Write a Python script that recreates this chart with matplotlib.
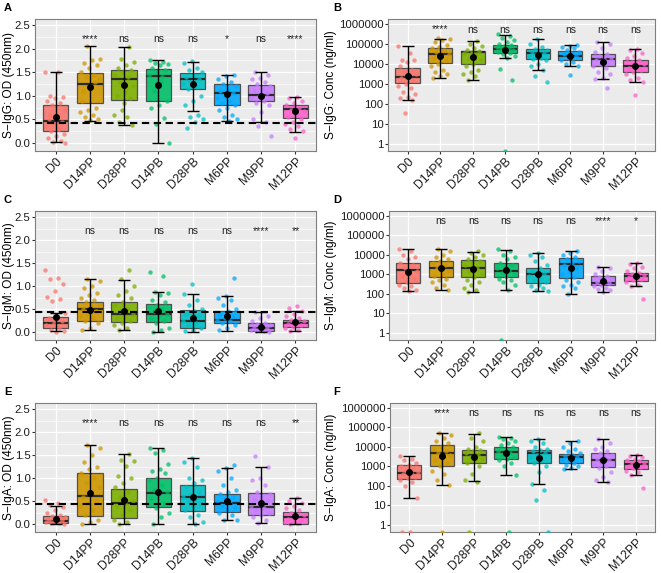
import numpy as np
import matplotlib
matplotlib.use("Agg")
import matplotlib.pyplot as plt
from matplotlib.ticker import FixedLocator, FuncFormatter

plt.rcParams['font.family'] = ['Liberation Sans', 'DejaVu Sans']

groups = ['D0', 'D14PP', 'D28PP', 'D14PB', 'D28PB', 'M6PP', 'M9PP', 'M12PP']
colors = ['#F8766D', '#CD9600', '#7CAE00', '#00BE67', '#00BFC4', '#00A9FF', '#C77CFF', '#FF61CC']
cutoff = 0.43

# ---- A: S-IgG OD ----
a_q1 = [0.26, 0.85, 0.92, 0.88, 1.15, 0.80, 0.90, 0.54]
a_med = [0.46, 1.26, 1.35, 1.42, 1.35, 1.07, 1.02, 0.72]
a_q3 = [0.80, 1.48, 1.55, 1.57, 1.49, 1.26, 1.24, 0.81]
a_lo = [0.02, 0.47, 0.38, 0.00, 0.67, 0.46, 0.44, 0.23]
a_hi = [1.51, 2.05, 2.03, 1.77, 1.72, 1.45, 1.50, 0.98]
a_mean = [0.55, 1.18, 1.22, 1.24, 1.25, 1.03, 1.00, 0.67]
a_pts = [
    [1.51, 1.50, 1.0, 0.97, 0.95, 0.9, 0.85, 0.8, 0.7, 0.6, 0.5, 0.45, 0.4, 0.35, 0.3, 0.25, 0.2, 0.15, 0.1, 0.05, 0.02, 0.0, 0.3, 0.6],
    [2.05, 1.78, 1.75, 1.7, 1.65, 1.6, 1.5, 1.45, 1.4, 1.35, 1.2, 1.1, 0.75, 0.7, 0.65, 0.6, 0.55, 0.5, 0.48, 0.9, 1.3],
    [2.03, 1.78, 1.72, 1.65, 1.6, 1.55, 1.5, 1.45, 1.4, 1.3, 1.2, 1.1, 1.0, 0.95, 0.7, 0.6, 0.55, 0.45, 0.38, 0.85],
    [1.77, 1.72, 1.7, 1.68, 1.65, 1.6, 1.55, 1.5, 1.45, 1.4, 1.1, 0.9, 0.8, 0.75, 0.52, 0.4, 0.0, 1.3],
    [1.73, 1.7, 1.6, 1.55, 1.5, 1.45, 1.4, 1.35, 1.3, 1.25, 1.2, 1.15, 1.0, 0.9, 0.8, 0.6, 0.55, 0.5, 0.45, 0.32],
    [1.45, 1.43, 1.35, 1.3, 1.25, 1.2, 1.15, 1.1, 1.05, 1.0, 0.95, 0.9, 0.85, 0.8, 0.75, 0.7, 0.6, 0.55, 0.5, 0.46],
    [1.5, 1.45, 1.38, 1.35, 1.3, 1.25, 1.2, 1.15, 1.1, 1.05, 1.0, 0.95, 0.9, 0.85, 0.8, 0.65, 0.5, 0.45, 0.35, 0.15],
    [0.98, 0.95, 0.9, 0.85, 0.8, 0.75, 0.7, 0.68, 0.62, 0.55, 0.5, 0.45, 0.4, 0.35, 0.3, 0.25, 0.1],
]
a_sig = ['****', 'ns', 'ns', 'ns', '*', 'ns', '****']

# ---- B: S-IgG Conc ----
b_q1 = [1100, 11000, 9500, 35000, 18000, 15000, 7500, 4000]
b_med = [2200, 30000, 40000, 55000, 35000, 25000, 17000, 8000]
b_q3 = [6000, 65000, 45000, 85000, 55000, 45000, 30000, 16000]
b_lo = [150, 2000, 1500, 20000, 5000, 7500, 1800, 1200]
b_hi = [80000, 180000, 140000, 280000, 180000, 90000, 130000, 55000]
b_mean = [2450, 25000, 23000, 50000, 28000, 24000, 13000, 7500]
b_pts = [
    [80000, 35000, 16000, 15000, 12000, 8000, 5000, 4000, 3000, 2500, 2000, 1500, 1000, 800, 600, 400, 300, 220, 200, 150, 35],
    [200000, 180000, 150000, 120000, 90000, 70000, 60000, 50000, 40000, 30000, 25000, 20000, 15000, 10000, 8000, 5000, 4000, 3000, 2500, 2000],
    [140000, 100000, 80000, 60000, 50000, 45000, 40000, 35000, 30000, 20000, 15000, 10000, 8000, 5000, 4000, 3000, 2500, 1500],
    [300000, 250000, 200000, 150000, 120000, 100000, 90000, 80000, 70000, 60000, 55000, 50000, 45000, 40000, 35000, 30000, 25000, 20000, 5500, 1500, 0],
    [180000, 100000, 70000, 55000, 50000, 45000, 40000, 35000, 30000, 25000, 20000, 18000, 15000, 10000, 8000, 5000, 2500, 1200],
    [90000, 80000, 70000, 60000, 50000, 40000, 35000, 30000, 25000, 20000, 15000, 12000, 10000, 8000, 2800],
    [130000, 100000, 60000, 40000, 30000, 25000, 20000, 17000, 15000, 12000, 10000, 8000, 6000, 4000, 3000, 2000, 1800, 600],
    [55000, 50000, 35000, 25000, 20000, 15000, 12000, 10000, 8000, 6000, 5000, 4000, 3000, 2000, 1500, 1200, 280],
]
b_sig = ['****', 'ns', 'ns', 'ns', 'ns', 'ns', 'ns']

# ---- C: S-IgM OD ----
c_q1 = [0.10, 0.25, 0.22, 0.23, 0.10, 0.20, 0.03, 0.12]
c_med = [0.20, 0.50, 0.39, 0.39, 0.25, 0.27, 0.08, 0.20]
c_q3 = [0.33, 0.66, 0.65, 0.62, 0.48, 0.46, 0.20, 0.26]
c_lo = [0.02, 0.05, 0.04, 0.00, 0.01, 0.03, 0.01, 0.03]
c_hi = [0.42, 1.15, 1.14, 0.88, 0.83, 0.79, 0.43, 0.46]
c_mean = [0.33, 0.49, 0.45, 0.45, 0.30, 0.35, 0.11, 0.21]
c_pts = [
    [1.35, 1.17, 1.15, 1.05, 0.9, 0.77, 0.72, 0.68, 0.42, 0.35, 0.3, 0.25, 0.2, 0.15, 0.1, 0.05, 0.02, 0.0],
    [1.15, 1.12, 1.0, 0.95, 0.85, 0.8, 0.75, 0.7, 0.65, 0.6, 0.55, 0.5, 0.45, 0.4, 0.35, 0.3, 0.25, 0.2, 0.1, 0.05],
    [1.34, 1.15, 1.0, 0.9, 0.8, 0.75, 0.65, 0.6, 0.5, 0.45, 0.4, 0.35, 0.3, 0.25, 0.2, 0.15, 0.1, 0.05],
    [1.31, 1.21, 0.88, 0.85, 0.8, 0.7, 0.65, 0.6, 0.55, 0.5, 0.45, 0.4, 0.35, 0.3, 0.25, 0.2, 0.1, 0.05, 0.0],
    [1.05, 0.83, 0.7, 0.6, 0.5, 0.45, 0.4, 0.35, 0.3, 0.25, 0.2, 0.15, 0.1, 0.05, 0.02],
    [1.18, 0.79, 0.75, 0.7, 0.6, 0.5, 0.45, 0.4, 0.35, 0.3, 0.27, 0.25, 0.2, 0.15, 0.1, 0.05],
    [0.43, 0.35, 0.3, 0.25, 0.2, 0.18, 0.15, 0.12, 0.1, 0.08, 0.06, 0.05, 0.03, 0.02, 0.01],
    [0.57, 0.52, 0.46, 0.4, 0.35, 0.3, 0.26, 0.24, 0.2, 0.18, 0.15, 0.12, 0.1, 0.05, 0.03],
]
c_sig = ['ns', 'ns', 'ns', 'ns', 'ns', '****', '**']

# ---- D: S-IgM Conc ----
d_q1 = [380, 750, 700, 750, 380, 650, 280, 450]
d_med = [1600, 2100, 2000, 1500, 1100, 3300, 350, 850]
d_q3 = [4000, 5000, 5200, 3800, 2100, 6500, 800, 1200]
d_lo = [140, 150, 130, 150, 140, 100, 130, 250]
d_hi = [20000, 20000, 14000, 18000, 13000, 15000, 2500, 4000]
d_mean = [1300, 2000, 1800, 1700, 1100, 2000, 450, 800]
d_pts = [
    [20000, 15000, 10000, 8000, 6000, 4000, 3000, 2000, 1500, 1000, 800, 600, 400, 300, 250, 200, 150, 140],
    [20000, 15000, 10000, 8000, 6000, 5000, 4000, 3000, 2000, 1500, 1000, 800, 600, 500, 400, 300, 200, 150],
    [15000, 13000, 10000, 8000, 6000, 5000, 4000, 3000, 2000, 1500, 1000, 700, 500, 400, 300, 200, 150, 130],
    [20000, 15000, 10000, 8000, 6000, 4000, 3000, 2500, 2000, 1500, 1200, 1000, 800, 600, 500, 400, 300, 150, 0],
    [13000, 10000, 8000, 5000, 3000, 2000, 1500, 1200, 1000, 800, 600, 500, 400, 300, 250, 200, 150, 140],
    [15000, 12000, 10000, 8000, 6000, 5000, 4000, 3000, 2000, 1500, 1000, 700, 500, 400, 300, 250, 200, 100],
    [2500, 2000, 1500, 1000, 800, 700, 600, 500, 400, 350, 300, 250, 200, 180, 150, 130],
    [4000, 3500, 2500, 2000, 1500, 1200, 1000, 900, 800, 700, 600, 500, 400, 300, 250, 55],
]
d_sig = ['ns', 'ns', 'ns', 'ns', 'ns', '****', '*']

# ---- E: S-IgA OD ----
e_q1 = [0.03, 0.18, 0.13, 0.38, 0.28, 0.26, 0.20, 0.01]
e_med = [0.07, 0.62, 0.47, 0.68, 0.58, 0.47, 0.37, 0.15]
e_q3 = [0.17, 1.12, 0.77, 1.00, 0.84, 0.66, 0.68, 0.27]
e_lo = [0.00, 0.00, 0.00, 0.00, 0.00, 0.08, 0.03, 0.00]
e_hi = [0.40, 1.72, 1.53, 1.65, 1.43, 1.22, 1.24, 0.56]
e_mean = [0.12, 0.67, 0.53, 0.70, 0.59, 0.50, 0.46, 0.17]
e_pts = [
    [0.52, 0.45, 0.42, 0.38, 0.3, 0.25, 0.2, 0.17, 0.15, 0.12, 0.1, 0.08, 0.06, 0.05, 0.03, 0.02, 0.0],
    [1.72, 1.65, 1.5, 1.35, 1.25, 1.2, 1.1, 1.0, 0.9, 0.8, 0.7, 0.6, 0.5, 0.45, 0.4, 0.3, 0.2, 0.1, 0.05, 0.0],
    [1.53, 1.4, 1.38, 1.26, 1.05, 1.0, 0.9, 0.8, 0.7, 0.6, 0.5, 0.45, 0.4, 0.3, 0.2, 0.1, 0.05, 0.0],
    [1.65, 1.6, 1.55, 1.3, 1.2, 1.15, 1.1, 1.0, 0.95, 0.85, 0.75, 0.7, 0.65, 0.55, 0.45, 0.35, 0.25, 0.15, 0.0],
    [1.43, 1.35, 1.25, 1.0, 0.95, 0.9, 0.8, 0.7, 0.65, 0.6, 0.55, 0.5, 0.45, 0.4, 0.3, 0.2, 0.15, 0.05, 0.0],
    [1.28, 1.22, 1.15, 1.0, 0.85, 0.75, 0.7, 0.65, 0.6, 0.55, 0.5, 0.45, 0.4, 0.35, 0.3, 0.25, 0.2, 0.1, 0.08],
    [1.48, 1.24, 1.0, 0.95, 0.85, 0.7, 0.65, 0.6, 0.55, 0.5, 0.45, 0.4, 0.35, 0.3, 0.25, 0.2, 0.15, 0.1, 0.03],
    [0.56, 0.5, 0.45, 0.4, 0.35, 0.3, 0.25, 0.2, 0.15, 0.12, 0.1, 0.08, 0.05, 0.02, 0.0],
]
e_sig = ['****', 'ns', 'ns', 'ns', 'ns', 'ns', '**']

# ---- F: S-IgA Conc ----
f_q1 = [230, 1100, 1500, 2500, 1400, 1500, 950, 750]
f_med = [450, 5000, 4000, 5500, 5000, 3000, 2000, 1300]
f_q3 = [1200, 13000, 7000, 10000, 7000, 4500, 5000, 2200]
f_lo = [25, 110, 170, 350, 130, 700, 160, 340]
f_hi = [3300, 50000, 45000, 33000, 25000, 20000, 25000, 4000]
f_mean = [500, 3300, 3000, 5000, 2800, 2800, 2000, 1200]
f_pts = [
    [3300, 2500, 2000, 1500, 1200, 1000, 800, 600, 500, 450, 400, 300, 250, 200, 150, 100, 25, 0, 0],
    [50000, 40000, 30000, 20000, 15000, 10000, 8000, 6000, 5000, 4000, 3000, 2000, 1500, 1000, 600, 400, 200, 110, 0],
    [50000, 30000, 20000, 10000, 8000, 7000, 6000, 5000, 4000, 3000, 2500, 2000, 1500, 1000, 400, 200, 160, 0],
    [33000, 30000, 25000, 20000, 15000, 12000, 10000, 8000, 6000, 5000, 4000, 3000, 2500, 2000, 1500, 1000, 350, 0],
    [25000, 20000, 15000, 10000, 8000, 7000, 6000, 5000, 4000, 3000, 2000, 1500, 1000, 500, 130, 60, 18, 0],
    [20000, 15000, 10000, 8000, 6000, 5000, 4000, 3500, 3000, 2500, 2000, 1500, 1200, 1000, 800, 700],
    [25000, 15000, 10000, 8000, 6000, 5000, 4000, 3000, 2500, 2000, 1500, 1200, 1000, 800, 500, 300, 200, 160],
    [4000, 3500, 3000, 2500, 2000, 1800, 1500, 1300, 1200, 1000, 900, 800, 600, 500, 340, 80],
]
f_sig = ['****', 'ns', 'ns', 'ns', 'ns', 'ns', 'ns']

W, H = 661, 573
fig = plt.figure(figsize=(W / 100, H / 100), dpi=100)


def px_axes(left, top, right, bottom):
    return fig.add_axes([left / W, 1 - bottom / H, (right - left) / W, (bottom - top) / H])


def panel(ax, q1, med, q3, lo, hi, mean, pts, sig, ylabel, label_right_px, log=False):
    x = np.arange(1, len(groups) + 1)
    ax.set_facecolor('#EBEBEB')
    if log:
        ax.set_yscale('log')
        ymin, ymax = 10 ** -0.37, 10 ** 6.25
        ax.set_ylim(ymin, ymax)
        ax.yaxis.set_major_locator(FixedLocator([10 ** k for k in range(7)]))
        ax.yaxis.set_major_formatter(FuncFormatter(lambda v, p: f'{int(round(v))}'))
        ax.yaxis.set_minor_locator(FixedLocator([]))
        sig_y = 10 ** 5.72
    else:
        ymin, ymax = -0.17, 2.63
        ax.set_ylim(ymin, ymax)
        ax.set_yticks([0.0, 0.5, 1.0, 1.5, 2.0, 2.5])
        ax.set_yticklabels(['0.0', '0.5', '1.0', '1.5', '2.0', '2.5'])
        ax.yaxis.set_minor_locator(FixedLocator([0.25, 0.75, 1.25, 1.75, 2.25]))
        sig_y = 2.2
    ax.set_xlim(0.4, 8.6)
    ax.grid(True, which='major', color='white', lw=0.9, zorder=0)
    ax.grid(True, which='minor', axis='y', color='white', lw=0.45, zorder=0)
    ax.set_axisbelow(True)

    stats = [dict(q1=q1[i], med=med[i], q3=q3[i], whislo=lo[i], whishi=hi[i], fliers=[])
             for i in range(len(groups))]
    bp = ax.bxp(stats, positions=x, widths=0.74, patch_artist=True, showcaps=False,
                boxprops=dict(edgecolor='#444444', lw=0.9),
                medianprops=dict(color='#2b2b2b', lw=1.6),
                whiskerprops=dict(lw=0), manage_ticks=False, zorder=2)
    for patch, c in zip(bp['boxes'], colors):
        patch.set_facecolor(c)
        patch.set_alpha(0.9)
        patch.set_edgecolor('#444444')

    for i, vals in enumerate(pts):
        vals = np.array(vals, dtype=float)
        if log:
            vals = np.where(vals <= 0, ymin, vals)
        n = len(vals)
        offs = ((np.arange(n) * 0.6180339 + 0.37 * i) % 1.0 - 0.5) * 0.6
        ax.scatter(x[i] + offs, vals, s=10, color=colors[i], alpha=0.75, lw=0, zorder=3)

    if not log:
        ax.axhline(cutoff, color='black', lw=1.5, dashes=(3.5, 2.2), zorder=4)

    mean = np.array(mean, dtype=float)
    ax.errorbar(x, mean, yerr=[mean - np.array(lo), np.array(hi) - mean], fmt='o',
                color='black', ms=4, elinewidth=1.0, capsize=4.5, capthick=1.0, zorder=5)

    for i, s in enumerate(sig):
        ax.text(x[i + 1], sig_y, s, ha='center', va='center', fontsize=7.5, color='#222222')

    ax.set_xticks(x)
    ax.set_xticklabels(groups, rotation=45, ha='right', rotation_mode='anchor', fontsize=8.8)
    ax.tick_params(axis='both', colors='#333333', labelcolor='#1a1a1a', length=2, width=0.8,
                   pad=1.2)
    ax.tick_params(axis='y', labelsize=8.2)
    ax.tick_params(axis='y', which='minor', length=0)
    for sp in ax.spines.values():
        sp.set_color('#7f7f7f')
        sp.set_linewidth(0.8)
    ax.set_ylabel(ylabel, fontsize=8.6)
    bb = ax.get_position()
    ax.yaxis.set_label_coords((label_right_px / W - bb.x0) / bb.width, 0.5)


axA = px_axes(35, 19, 316, 151)
axB = px_axes(388, 19, 655, 151)
axC = px_axes(35, 211, 316, 340)
axD = px_axes(389, 211, 655, 340)
axE = px_axes(35, 403, 316, 532)
axF = px_axes(390, 403, 655, 532)

panel(axA, a_q1, a_med, a_q3, a_lo, a_hi, a_mean, a_pts, a_sig, 'S\u2212IgG: OD (450nm)', 15)
panel(axB, b_q1, b_med, b_q3, b_lo, b_hi, b_mean, b_pts, b_sig, 'S\u2212IgG: Conc (ng/ml)', 337, log=True)
panel(axC, c_q1, c_med, c_q3, c_lo, c_hi, c_mean, c_pts, c_sig, 'S\u2212IgM: OD (450nm)', 15)
panel(axD, d_q1, d_med, d_q3, d_lo, d_hi, d_mean, d_pts, d_sig, 'S\u2212IgM: Conc (ng/ml)', 337, log=True)
panel(axE, e_q1, e_med, e_q3, e_lo, e_hi, e_mean, e_pts, e_sig, 'S\u2212IgA: OD (450nm)', 15)
panel(axF, f_q1, f_med, f_q3, f_lo, f_hi, f_mean, f_pts, f_sig, 'S\u2212IgA: Conc (ng/ml)', 337, log=True)

letters = [('A', 4, 3), ('B', 333, 3), ('C', 4, 195), ('D', 333, 195), ('E', 4, 387), ('F', 333, 387)]
for lab, lx, ly in letters:
    fig.text(lx / W, 1 - ly / H, lab, fontsize=8, fontweight='bold', va='top', ha='left')

fig.savefig('out.png', dpi=100)
